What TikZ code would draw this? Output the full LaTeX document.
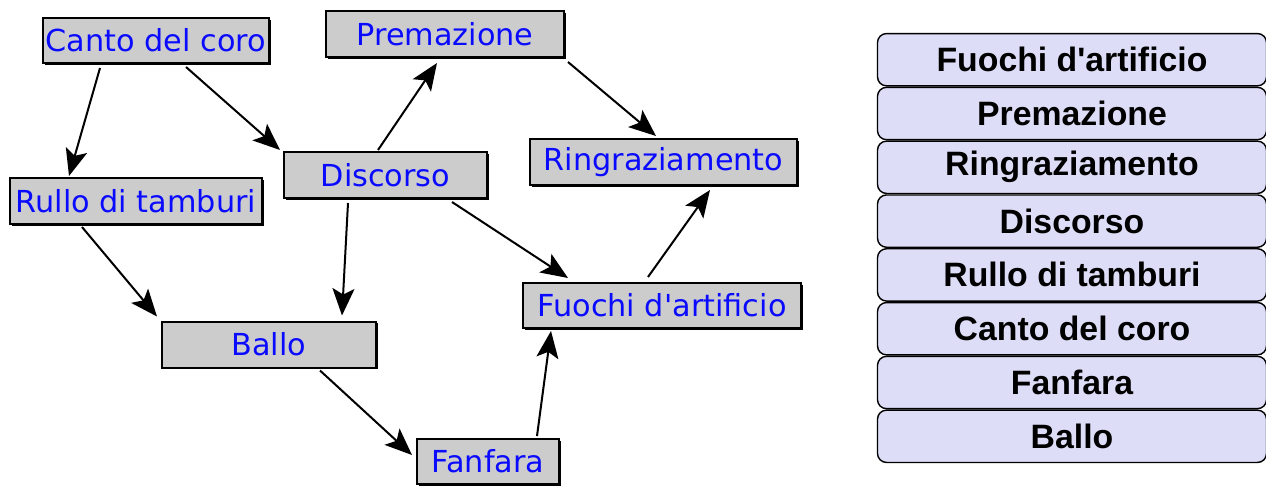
\documentclass[tikz,border=0pt]{standalone}
\usepackage{fontspec}
\newfontfamily\dvs{DejaVu Sans}
\newfontfamily\boldarial{Liberation Sans}
\usetikzlibrary{arrows.meta,calc,shadows}
\definecolor{lav}{RGB}{221,221,247}
\definecolor{gbox}{RGB}{204,204,204}
\definecolor{lblue}{RGB}{10,10,255}
\tikzset{
  gnode/.style={rectangle, draw=black, line width=2pt, fill=gbox, inner sep=0pt,
    text=lblue, font=\dvs\fontsize{30.3}{34}\selectfont,
    drop shadow={shadow xshift=1.5pt, shadow yshift=-1.5pt, fill=black, opacity=1}},
  lnode/.style={rectangle, rounded corners=9pt, draw=black, line width=1.4pt, fill=lav,
    inner sep=0pt, minimum width=389pt, minimum height=52.3pt,
    font=\boldarial\bfseries\fontsize{33.8}{38}\selectfont},
  arr/.style={line width=2pt, -{Stealth[length=27pt,width=22pt,inset=6pt]}}
}
\begin{document}
\begin{tikzpicture}[x=1pt,y=-1pt]
\useasboundingbox (0,0) rectangle (1266,485);
% graph nodes
\node[gnode, minimum width=226pt, minimum height=45pt] (canto) at (156,40.5) {Canto del coro};
\node[gnode, minimum width=238pt, minimum height=46pt] (prem) at (445,34) {Premazione};
\node[gnode, minimum width=203pt, minimum height=46pt] (disc) at (385.5,175) {Discorso};
\node[gnode, minimum width=267pt, minimum height=46pt] (ring) at (663.5,162) {Ringraziamento};
\node[gnode, minimum width=252pt, minimum height=46pt] (rullo) at (136,201) {Rullo di tamburi};
\node[gnode, minimum width=214pt, minimum height=46pt] (ballo) at (269,344.5) {Ballo};
\node[gnode, minimum width=278pt, minimum height=45pt] (fuochi) at (662,305.5) {Fuochi d'artificio};
\node[gnode, minimum width=142pt, minimum height=45pt] (fanf) at (488,461.5) {Fanfara};
% connectors
\draw[arr] ($(canto.south)+(-56,4)$) -- ($(rullo.north)+(-67,-1)$);
\draw[arr] ($(canto.south)+(30,3)$) -- ($(disc.north west)+(-3,-1)$);
\draw[arr] ($(disc.north)+(-7.5,-1)$) -- ($(prem.south)+(-8,5)$);
\draw[arr] ($(prem.south east)+(3,4)$) -- ($(ring.north)+(-7.5,-2)$);
\draw[arr] ($(rullo.south)+(-54,2)$) -- ($(ballo.north west)+(-4,-4)$);
\draw[arr] ($(disc.south)+(-37.5,4)$) -- ($(ballo.north)+(73,-5)$);
\draw[arr] ($(disc.south)+(66.5,3)$) -- ($(fuochi.north)+(-94,-4)$);
\draw[arr] ($(ballo.south)+(51,2)$) -- ($(fanf.west)+(-4,-6.5)$);
\draw[arr] ($(fanf.north)+(49,-2)$) -- ($(fuochi.south)+(-111,2)$);
\draw[arr] ($(fuochi.north)+(-14,-5)$) -- ($(ring.south)+(46.5,4)$);
% list
\node[lnode] (l1) at (1072,59.7) {Fuochi d'artificio};
\node[lnode] (l2) at (1072,113.5) {Premazione};
\node[lnode] (l3) at (1072,167.3) {Ringraziamento};
\node[lnode] (l4) at (1072,221.1) {Discorso};
\node[lnode] (l5) at (1072,274.9) {Rullo di tamburi};
\node[lnode] (l6) at (1072,328.7) {Canto del coro};
\node[lnode] (l7) at (1072,382.5) {Fanfara};
\node[lnode] (l8) at (1072,436.3) {Ballo};
\end{tikzpicture}
\end{document}
